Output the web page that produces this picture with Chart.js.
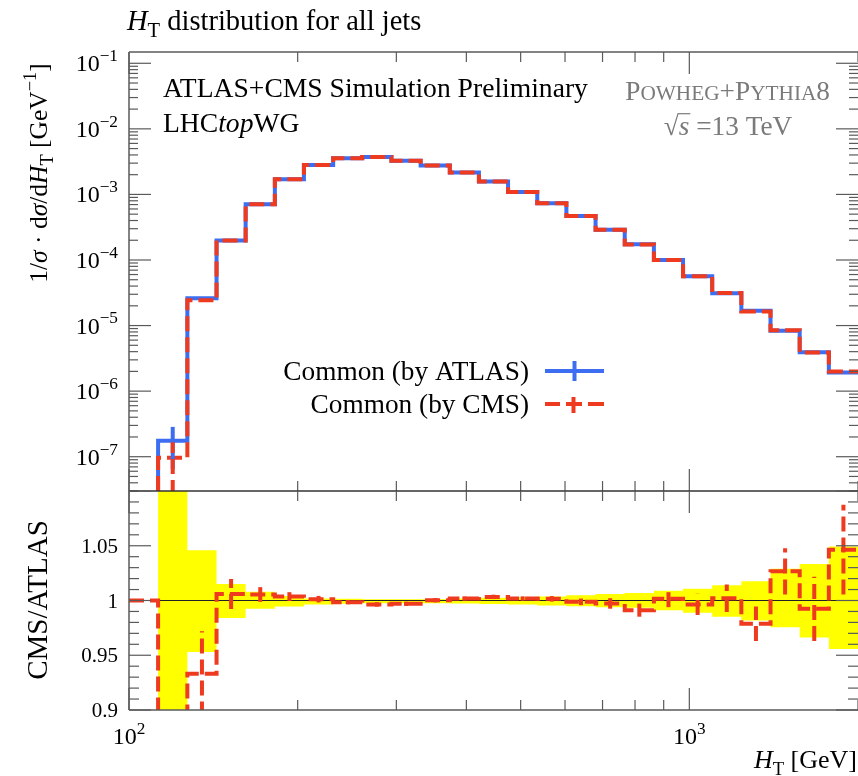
<!DOCTYPE html>
<html>
<head>
<meta charset="utf-8">
<script src="https://cdn.jsdelivr.net/npm/chart.js@4.4.1/dist/chart.umd.min.js"></script>
<style>
  html, body { margin: 0; padding: 0; background: #fff; }
  #wrap { position: relative; width: 858px; height: 776px; overflow: hidden; }
  #wrap canvas { position: absolute; left: 0; top: 0; }
</style>
</head>
<body>
<div id="wrap">
  <canvas id="cMain" width="858" height="776"></canvas>
  <canvas id="cRatio" width="858" height="776"></canvas>
</div>
<script>
  // --- donnees ---
  const binEdges = [100, 112.7, 127.1, 143.3, 161.5, 182.1, 205.2, 231.4, 260.8, 294.0, 331.5, 373.7, 421.2,
    474.8, 535.3, 603.4, 680.3, 766.9, 864.5, 974.5, 1098.6, 1238.4, 1396.1, 1573.8, 1774.2, 2000];

  // 1er bin vide (sous l'echelle)
  const atlasMain = [1e-9, 1.75e-7, 2.6e-5, 1.98e-4, 7.1e-4, 1.71e-3, 2.82e-3, 3.56e-3, 3.72e-3, 3.27e-3,
    2.75e-3, 2.15e-3, 1.57e-3, 1.09e-3, 7.35e-4, 4.7e-4, 2.89e-4, 1.74e-4, 1.0e-4, 5.66e-5,
    3.12e-5, 1.68e-5, 8.3e-6, 3.93e-6, 1.92e-6];
  const cmsMain = [1e-9, 9.6e-8, 2.43e-5, 1.99e-4, 7.1e-4, 1.71e-3, 2.82e-3, 3.56e-3, 3.71e-3, 3.26e-3,
    2.75e-3, 2.15e-3, 1.57e-3, 1.09e-3, 7.36e-4, 4.7e-4, 2.88e-4, 1.72e-4, 1.0e-4, 5.64e-5,
    3.13e-5, 1.64e-5, 8.5e-6, 3.9e-6, 2.0e-6];
  const atlasErr = [0, 1.1e-7, 0, 0, 0, 0, 0, 0, 0, 0, 0, 0, 0, 0, 0, 0, 0, 0, 0, 0, 0, 0, 0, 0, 0];
  const cmsErr = [0, 7e-8, 0, 0, 0, 0, 0, 0, 0, 0, 0, 0, 0, 0, 0, 0, 0, 0, 0, 0, 0, 0, 0, 0, 0];

  const ratioCms = [1.0, 0.56, 0.933, 1.006, 1.0055, 1.0036, 1.0012, 0.9985, 0.9964, 0.997, 1.0003, 1.0018,
    1.0033, 1.0018, 1.0015, 0.9988, 0.9973, 0.9912, 1.0015, 0.9964, 1.0021, 0.9788, 1.0266, 0.9924, 1.0464];
  const ratioErr = [0, 0.3, 0.039, 0.0137, 0.0067, 0.004, 0.003, 0.002, 0.002, 0.002, 0.002, 0.002,
    0.002, 0.002, 0.0025, 0.003, 0.0048, 0.006, 0.0076, 0.0097, 0.0126, 0.0158, 0.0212, 0.0294, 0.041];
  const bandLo = [1, 0.8, 0.953, 0.984, 0.9925, 0.9945, 0.9964, 0.997, 0.9976, 0.9976, 0.9976, 0.9972,
    0.9969, 0.9964, 0.9955, 0.9948, 0.9939, 0.9933, 0.9912, 0.9888, 0.9852, 0.9818, 0.9755, 0.9661, 0.9558];
  const bandHi = [1, 1.2, 1.046, 1.015, 1.008, 1.004, 1.0018, 1.0015, 1.0012, 1.0012, 1.0012, 1.0018,
    1.0024, 1.003, 1.0036, 1.0048, 1.006, 1.0069, 1.009, 1.0108, 1.0139, 1.0175, 1.029, 1.0333, 1.0494];

  const yMainExp = [-7, -6, -5, -4, -3, -2, -1];
  const yRatioLabels = ["0.9", "0.95", "1", "1.05"];
  const xLabelExp = [2, 3];

  // --- style ---
  const FONT = '"Liberation Serif", "DejaVu Serif", serif';
  const BLUE = "#3d6ef2";
  const RED = "#ee3a1e";
  const YELLOW = "#ffff00";
  const AXIS = "#5a5a5a";
  const GREY_TXT = "#7a7a7a";
  const DASH = [15, 6];

  function histPoints(vals) {
    const pts = vals.map((v, i) => ({ x: binEdges[i], y: v }));
    pts.push({ x: binEdges[binEdges.length - 1], y: vals[vals.length - 1] });
    return pts;
  }

  // texte "riche": [texte, style] avec style '', 'i', 'sub', 'sup', 'sc', 'ov'
  function partFont(style, size) {
    const s = (style === "sub" || style === "sup") ? size * 0.72 : (style === "sc" ? size * 0.78 : size);
    const it = (style === "i" || style === "ov") ? "italic " : "";
    return { font: `${it}${s}px ${FONT}`, s };
  }
  function drawRich(ctx, parts, x, y, align, size, color) {
    ctx.save();
    ctx.fillStyle = color || "#000";
    ctx.textBaseline = "alphabetic";
    ctx.textAlign = "left";
    let w = 0;
    const widths = parts.map(([t, st]) => {
      ctx.font = partFont(st, size).font;
      const m = ctx.measureText(t).width;
      w += m;
      return m;
    });
    let cx = align === "right" ? x - w : align === "center" ? x - w / 2 : x;
    parts.forEach(([t, st], i) => {
      const f = partFont(st, size);
      ctx.font = f.font;
      let dy = 0;
      if (st === "sub") dy = size * 0.25;
      if (st === "sup") dy = -size * 0.42;
      ctx.fillText(t, cx, y + dy);
      if (st === "ov") {
        ctx.strokeStyle = ctx.fillStyle;
        ctx.lineWidth = 1.2;
        ctx.beginPath();
        ctx.moveTo(cx - 1, y - size * 0.78);
        ctx.lineTo(cx + widths[i] + 1, y - size * 0.78);
        ctx.stroke();
      }
      cx += widths[i];
    });
    ctx.restore();
  }

  function line(ctx, x1, y1, x2, y2) {
    ctx.beginPath();
    ctx.moveTo(x1, y1);
    ctx.lineTo(x2, y2);
    ctx.stroke();
  }

  function xTickValues() {
    const out = [];
    for (let d = 100; d <= 1000; d *= 10) {
      for (let m = 1; m <= 9; m++) {
        const v = m * d;
        if (v >= 100 && v <= 2000) out.push({ v, major: m === 1 });
      }
    }
    return out;
  }

  function drawXTicks(ctx, a, xs) {
    xTickValues().forEach(({ v, major }) => {
      const px = xs.getPixelForValue(v);
      const len = major ? 22 : 10;
      line(ctx, px, a.top, px, a.top + len);
      line(ctx, px, a.bottom, px, a.bottom - len);
    });
  }

  function drawErrors(ctx, chart, vals, errs, color, dashed, ysLimit) {
    const a = chart.chartArea, xs = chart.scales.x, ys = chart.scales.y;
    ctx.save();
    ctx.beginPath();
    ctx.rect(a.left, a.top, a.right - a.left, a.bottom - a.top);
    ctx.clip();
    ctx.strokeStyle = color;
    ctx.lineWidth = 4;
    ctx.setLineDash(dashed ? DASH : []);
    vals.forEach((v, i) => {
      const e = errs[i];
      if (!e) return;
      const px = (xs.getPixelForValue(binEdges[i]) + xs.getPixelForValue(binEdges[i + 1])) / 2;
      const lo = Math.max(v - e, ysLimit);
      line(ctx, px, ys.getPixelForValue(lo), px, ys.getPixelForValue(v + e));
    });
    ctx.restore();
  }

  // --- panneau principal ---
  const mainDecor = {
    id: "mainDecor",
    afterDatasetsDraw(chart) {
      const ctx = chart.ctx;
      drawErrors(ctx, chart, atlasMain, atlasErr, BLUE, false, 1e-12);
      drawErrors(ctx, chart, cmsMain, cmsErr, RED, true, 1e-12);
    },
    afterDraw(chart) {
      const ctx = chart.ctx, a = chart.chartArea, xs = chart.scales.x, ys = chart.scales.y;
      ctx.save();
      ctx.strokeStyle = AXIS;
      ctx.lineWidth = 1.5;
      line(ctx, a.left, a.top, a.right, a.top);
      line(ctx, a.left, a.top, a.left, a.bottom);
      ctx.lineWidth = 1.2;
      drawXTicks(ctx, a, xs);
      // ticks y log, gauche et droite
      for (let k = -8; k <= -1; k++) {
        for (let m = 1; m <= 9; m++) {
          const v = m * Math.pow(10, k);
          if (v < ys.min || v > ys.max) continue;
          const py = ys.getPixelForValue(v);
          const len = m === 1 ? 22 : 9;
          line(ctx, a.left, py, a.left + len, py);
          line(ctx, a.right, py, a.right - len, py);
        }
      }
      ctx.restore();

      yMainExp.forEach((e) => {
        const py = ys.getPixelForValue(Math.pow(10, e));
        drawRich(ctx, [["10", ""], ["\u2212" + (-e), "sup"]], 118, py + 8, "right", 24);
      });

      // titre
      drawRich(ctx, [["H", "i"], ["T", "sub"], [" distribution for all jets", ""]], 127, 30, "left", 28.5);

      // titre axe y
      ctx.save();
      ctx.translate(47, 173);
      ctx.rotate(-Math.PI / 2);
      drawRich(ctx, [["1/", ""], ["\u03c3", "i"], [" \u00b7 d", ""], ["\u03c3", "i"], ["/d", ""], ["H", "i"],
        ["T", "sub"], [" [GeV", ""], ["\u22121", "sup"], ["]", ""]], 0, 0, "center", 25.5);
      ctx.restore();

      // annotations
      drawRich(ctx, [["ATLAS+CMS Simulation Preliminary", ""]], 163, 97, "left", 27.6);
      drawRich(ctx, [["LHC", ""], ["top", "i"], ["WG", ""]], 163, 132, "left", 27.6);
      drawRich(ctx, [["P", ""], ["OWHEG", "sc"], ["+P", ""], ["YTHIA", "sc"], ["8", ""]], 830, 100, "right", 27.3, GREY_TXT);
      drawRich(ctx, [["\u221a", ""], ["s", "ov"], [" =13 TeV", ""]], 728, 135, "center", 27.3, GREY_TXT);

      // legende
      drawRich(ctx, [["Common (by ATLAS)", ""]], 529, 380, "right", 27.3);
      drawRich(ctx, [["Common (by CMS)", ""]], 529, 413, "right", 27.3);
      ctx.save();
      ctx.lineWidth = 4;
      ctx.strokeStyle = BLUE;
      line(ctx, 545, 371, 604, 371);
      line(ctx, 574.5, 361, 574.5, 381);
      ctx.strokeStyle = RED;
      line(ctx, 545, 404, 560, 404);
      line(ctx, 566, 404, 582, 404);
      line(ctx, 588, 404, 604, 404);
      line(ctx, 573.5, 397, 573.5, 413);
      ctx.restore();
    }
  };

  new Chart(document.getElementById("cMain"), {
    type: "line",
    data: {
      datasets: [
        {
          label: "Common (by CMS)", data: histPoints(cmsMain), stepped: "before",
          borderColor: RED, borderWidth: 4, borderDash: DASH, pointRadius: 0, fill: false, clip: 0
        },
        {
          label: "Common (by ATLAS)", data: histPoints(atlasMain), stepped: "before",
          borderColor: BLUE, borderWidth: 4, pointRadius: 0, fill: false, clip: 0
        }
      ]
    },
    options: {
      responsive: false,
      animation: false,
      layout: { padding: { left: 129, top: 52, right: 0, bottom: 776 - 491 } },
      plugins: { legend: { display: false }, tooltip: { enabled: false } },
      scales: {
        x: { type: "logarithmic", min: 100, max: 2000, display: false },
        y: { type: "logarithmic", min: Math.pow(10, -7.523), max: Math.pow(10, -0.828), display: false }
      }
    },
    plugins: [mainDecor]
  });

  // --- panneau ratio ---
  const ratioDecor = {
    id: "ratioDecor",
    afterDatasetsDraw(chart) {
      drawErrors(chart.ctx, chart, ratioCms, ratioErr, RED, true, 0);
    },
    afterDraw(chart) {
      const ctx = chart.ctx, a = chart.chartArea, xs = chart.scales.x, ys = chart.scales.y;
      ctx.save();
      ctx.strokeStyle = "#333";
      ctx.lineWidth = 1.5;
      line(ctx, a.left, a.top, a.right, a.top);
      ctx.strokeStyle = AXIS;
      line(ctx, a.left, a.bottom, a.right, a.bottom);
      line(ctx, a.left, a.top, a.left, a.bottom);
      ctx.lineWidth = 1.2;
      drawXTicks(ctx, a, xs);
      for (let i = 0; i <= 20; i++) {
        const v = 0.9 + i * 0.01;
        const py = ys.getPixelForValue(v);
        const len = i % 5 === 0 ? 22 : 10;
        line(ctx, a.left, py, a.left + len, py);
        line(ctx, a.right, py, a.right - len, py);
      }
      ctx.restore();

      yRatioLabels.forEach((t) => {
        const py = ys.getPixelForValue(Number(t));
        drawRich(ctx, [[t, ""]], 118, py + 7, "right", 21);
      });
      xLabelExp.forEach((e) => {
        const px = xs.getPixelForValue(Math.pow(10, e));
        drawRich(ctx, [["10", ""], [String(e), "sup"]], px, 744, "center", 24);
      });

      drawRich(ctx, [["H", "i"], ["T", "sub"], [" [GeV]", ""]], 857, 768, "right", 26);

      ctx.save();
      ctx.translate(47, 600);
      ctx.rotate(-Math.PI / 2);
      drawRich(ctx, [["CMS/ATLAS", ""]], 0, 0, "center", 29);
      ctx.restore();
    }
  };

  new Chart(document.getElementById("cRatio"), {
    type: "line",
    data: {
      datasets: [
        {
          label: "CMS/ATLAS", data: histPoints(ratioCms), stepped: "before",
          borderColor: RED, borderWidth: 4, borderDash: DASH, pointRadius: 0, fill: false, clip: 0
        },
        {
          label: "unity", data: [{ x: 100, y: 1 }, { x: 2000, y: 1 }],
          borderColor: "#222", borderWidth: 1.2, pointRadius: 0, fill: false, clip: 0
        },
        {
          label: "band hi", data: histPoints(bandHi), stepped: "before",
          borderColor: "rgba(0,0,0,0)", borderWidth: 0, pointRadius: 0,
          fill: "+1", backgroundColor: YELLOW, clip: 0
        },
        {
          label: "band lo", data: histPoints(bandLo), stepped: "before",
          borderColor: "rgba(0,0,0,0)", borderWidth: 0, pointRadius: 0, fill: false, clip: 0
        }
      ]
    },
    options: {
      responsive: false,
      animation: false,
      layout: { padding: { left: 129, top: 491, right: 0, bottom: 776 - 710 } },
      plugins: { legend: { display: false }, tooltip: { enabled: false } },
      scales: {
        x: { type: "logarithmic", min: 100, max: 2000, display: false },
        y: { type: "linear", min: 0.9, max: 1.1, display: false }
      }
    },
    plugins: [ratioDecor]
  });
</script>
</body>
</html>
